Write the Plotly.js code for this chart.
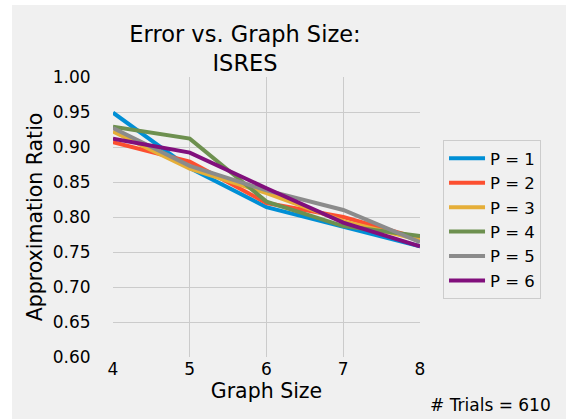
<!DOCTYPE html>
<html>
<head>
<meta charset="utf-8">
<script src="https://cdn.plot.ly/plotly-3.0.1.min.js"></script>
<style>
html, body { margin: 0; padding: 0; background: #ffffff; }
#chart { position: absolute; left: 12px; top: 5px; width: 554px; height: 414px; }
</style>
</head>
<body>
<div id="chart"></div>
<script>
const graphSizes = [4, 5, 6, 7, 8];
const seriesNames = ["P = 1", "P = 2", "P = 3", "P = 4", "P = 5", "P = 6"];
const p1 = [0.949, 0.870, 0.814, 0.786, 0.758];
const p2 = [0.907, 0.879, 0.820, 0.800, 0.769];
const p3 = [0.922, 0.869, 0.834, 0.794, 0.767];
const p4 = [0.929, 0.912, 0.822, 0.787, 0.773];
const p5 = [0.927, 0.873, 0.838, 0.810, 0.764];
const p6 = [0.912, 0.892, 0.841, 0.792, 0.758];
const seriesValues = [p1, p2, p3, p4, p5, p6];
const colors = ["#008fd5", "#fc4f30", "#e5ae38", "#6d904f", "#8b8b8b", "#810f7c"];
const yTicks = [0.60, 0.65, 0.70, 0.75, 0.80, 0.85, 0.90, 0.95, 1.00];
const yTickText = yTicks.map(v => v.toFixed(2));

const font = "DejaVu Sans, sans-serif";
const traces = seriesValues.map((vals, i) => ({
  x: graphSizes, y: vals, name: seriesNames[i], type: "scatter", mode: "lines",
  line: { color: colors[i], width: 4 }
}));

const layout = {
  width: 554, height: 414,
  paper_bgcolor: "#f0f0f0", plot_bgcolor: "#f0f0f0",
  margin: { l: 101, r: 146, t: 72, b: 62 },
  font: { family: font, color: "#000000", size: 17 },
  title: {
    text: "Error vs. Graph Size:<br>ISRES",
    font: { family: font, size: 22.5, color: "#000000" },
    x: 0.4206, xanchor: "center", xref: "container",
    y: 0.911, yanchor: "top", yref: "container"
  },
  xaxis: {
    range: [4, 8], tickvals: graphSizes, ticktext: graphSizes.map(String),
    showgrid: true, gridcolor: "#cbcbcb", gridwidth: 1, zeroline: false, showline: false,
    ticks: "",
    tickfont: { family: font, size: 17, color: "#000000" },
    title: { text: "Graph Size", font: { family: font, size: 20.5, color: "#000000" }, standoff: 3 }
  },
  yaxis: {
    range: [0.6, 1.0], tickvals: yTicks, ticktext: yTickText,
    showgrid: true, gridcolor: "#cbcbcb", gridwidth: 1, zeroline: false, showline: false,
    ticks: "outside", ticklen: 18, tickcolor: "rgba(0,0,0,0)",
    tickfont: { family: font, size: 17, color: "#000000" },
    title: { text: "Approximation Ratio", font: { family: font, size: 20.5, color: "#000000" }, standoff: 4 }
  },
  legend: {
    x: 1.075, xanchor: "left", y: 0.775, yanchor: "top",
    bgcolor: "#f0f0f0", bordercolor: "#cccccc", borderwidth: 1,
    font: { family: font, size: 16.5, color: "#000000" },
    tracegroupgap: 0, itemwidth: 36
  },
  annotations: [{
    text: "# Trials = 610", xref: "paper", yref: "paper",
    x: 1.231, y: -0.171, xanchor: "center", yanchor: "middle",
    showarrow: false, font: { family: font, size: 17, color: "#000000" }
  }],
  showlegend: true
};

Plotly.newPlot("chart", traces, layout, { displayModeBar: false, staticPlot: true });
</script>
</body>
</html>
